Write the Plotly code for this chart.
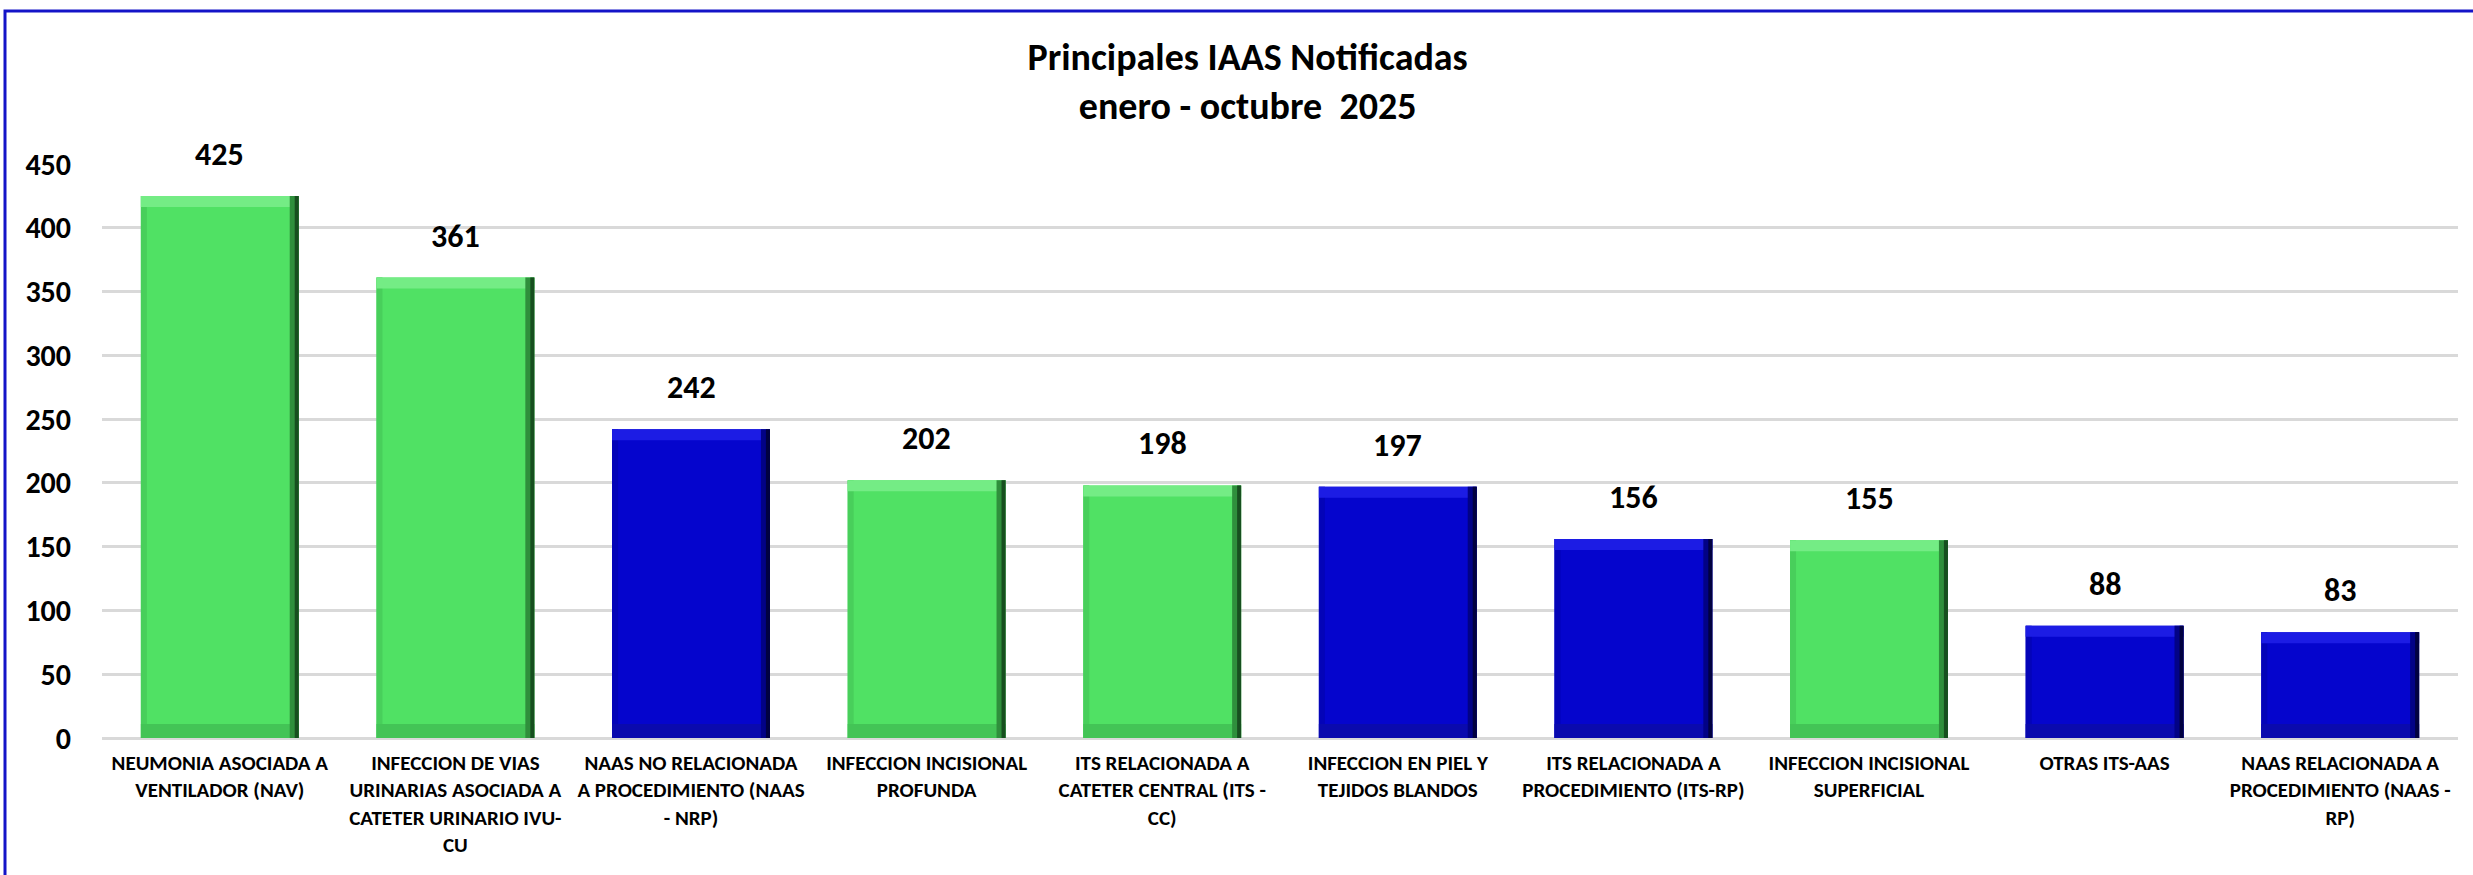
import plotly.graph_objects as go

# ---- data ----
categorias = [
    "NEUMONIA ASOCIADA A<br>VENTILADOR (NAV)",
    "INFECCION DE VIAS<br>URINARIAS ASOCIADA A<br>CATETER URINARIO IVU-<br>CU",
    "NAAS NO RELACIONADA<br>A PROCEDIMIENTO (NAAS<br>- NRP)",
    "INFECCION INCISIONAL<br>PROFUNDA",
    "ITS RELACIONADA A<br>CATETER CENTRAL (ITS -<br>CC)",
    "INFECCION EN PIEL Y<br>TEJIDOS BLANDOS",
    "ITS RELACIONADA A<br>PROCEDIMIENTO (ITS-RP)",
    "INFECCION INCISIONAL<br>SUPERFICIAL",
    "OTRAS ITS-AAS",
    "NAAS RELACIONADA A<br>PROCEDIMIENTO (NAAS -<br>RP)",
]
casos = [425, 361, 242, 202, 198, 197, 156, 155, 88, 83]
grupo = ["g", "g", "b", "g", "g", "b", "b", "g", "b", "b"]
y_ticks = [0, 50, 100, 150, 200, 250, 300, 350, 400, 450]

# ---- style ----
FONT = "Carlito, 'Liberation Sans Narrow', 'Open Sans', sans-serif"
fill = {"g": "#50E164", "b": "#0505CD"}
top_c = {"g": "#74EC85", "b": "#1C1CE4"}
bot_c = {"g": "#43C456", "b": "#0A0AAE"}
left_c = {"g": "#48CF5B", "b": "#0404B8"}
mid_c = {"g": "#2F8F3C", "b": "#020286"}
edge = {"g": "#174F1F", "b": "#010140"}

W, H = 2473, 875
ml, mr, mt, mb = 102, 15, 164, 137
pw, ph = W - ml - mr, H - mt - mb
YMAX = 450
u_y = YMAX / ph          # data units per pixel (y)
u_x = 1.0 / (pw / 10)    # category units per pixel (x)
BW = 0.67                # bar width (category units)
top_px, bot_px, left_px, mid_px, edge_px = 11, 14, 6, 9, 4

n = len(casos)
fig = go.Figure()


def layer(y, base, width, offset, colors):
    fig.add_trace(go.Bar(x=categorias, y=y, base=base, width=width, offset=offset,
                         marker=dict(color=colors, line=dict(width=0)),
                         hoverinfo="skip"))


# main bar
fig.add_trace(go.Bar(x=categorias, y=casos, width=BW, offset=-BW / 2,
                     marker=dict(color=[fill[g] for g in grupo], line=dict(width=0)),
                     hoverinfo="x+y"))
# left soft edge
layer(casos, 0, left_px * u_x, -BW / 2, [left_c[g] for g in grupo])
# bottom shade band
layer([bot_px * u_y] * n, 0, BW, -BW / 2, [bot_c[g] for g in grupo])
# top highlight band
layer([top_px * u_y] * n, [v - top_px * u_y for v in casos], BW, -BW / 2,
      [top_c[g] for g in grupo])
# right shaded edge (two tones)
layer(casos, 0, mid_px * u_x, BW / 2 - mid_px * u_x, [mid_c[g] for g in grupo])
layer(casos, 0, edge_px * u_x, BW / 2 - edge_px * u_x, [edge[g] for g in grupo])

for c, v in zip(categorias, casos):
    fig.add_annotation(x=c, y=v, text=f"<b>{v}</b>", showarrow=False,
                       yanchor="bottom", yshift=20,
                       font=dict(family=FONT, size=32, color="#000000"))

# outer blue frame (open on the right and bottom, like the cropped original)
fig.add_shape(type="rect", xref="paper", yref="paper",
              x0=(5 - ml) / pw, x1=(2500 - ml) / pw,
              y0=(H - mb - 900) / ph, y1=(H - mb - 11) / ph,
              line=dict(color="#1414C8", width=3), fillcolor="rgba(0,0,0,0)",
              layer="below")

fig.update_layout(
    width=W, height=H,
    margin=dict(l=ml, r=mr, t=mt, b=mb, autoexpand=False),
    paper_bgcolor="#FFFFFF", plot_bgcolor="#FFFFFF",
    barmode="overlay",
    showlegend=False,
    title=dict(text="<b>Principales IAAS Notificadas<br>enero - octubre &nbsp;2025</b>",
               x=0.5045, xref="container", xanchor="center",
               y=(H - 70) / H, yanchor="middle",
               font=dict(family=FONT, size=38, color="#000000")),
    font=dict(family=FONT, color="#000000"),
)
fig.update_xaxes(tickvals=categorias,
                 ticktext=[f"<b>{c.replace('<br>', '</b><br><b>')}</b>" for c in categorias],
                 tickfont=dict(family=FONT, size=21, color="#000000"),
                 showline=False, ticks="", tickangle=0, ticklabelstandoff=10,
                 range=[-0.5, len(categorias) - 0.5])
fig.update_yaxes(range=[0, YMAX], tickvals=y_ticks,
                 ticktext=[f"<b>{t}</b>" for t in y_ticks],
                 tickfont=dict(family=FONT, size=30, color="#000000"),
                 showgrid=True, gridcolor="#D9D9D9", gridwidth=3,
                 zeroline=True, zerolinecolor="#D9D9D9", zerolinewidth=3,
                 showline=False, ticks="", ticklabelstandoff=30)

fig.write_html("out.html", config={"displayModeBar": False},
               post_script="document.body.style.margin='0';")
